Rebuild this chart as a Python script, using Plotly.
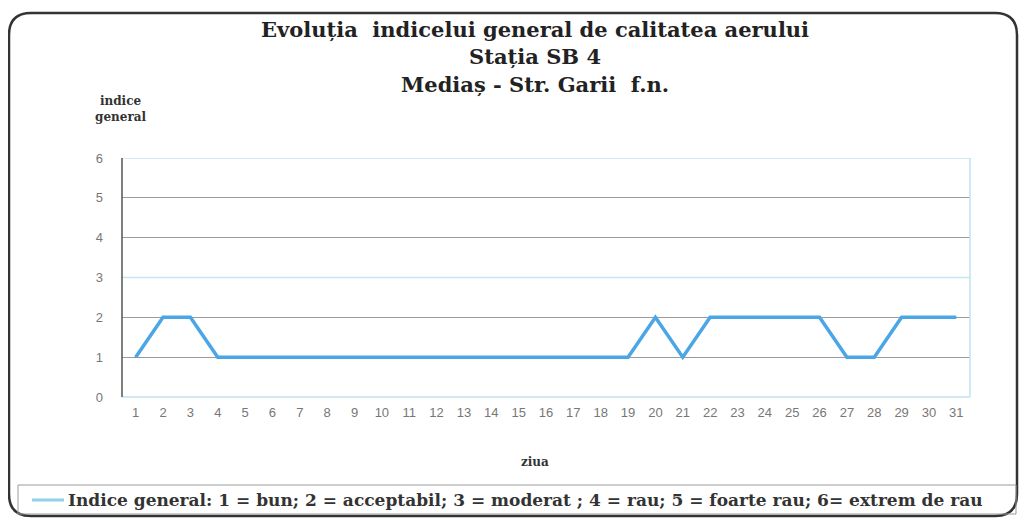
import plotly.graph_objects as go

days = [str(d) for d in range(1, 32)]
indice = [1, 2, 2, 1, 1, 1, 1, 1, 1, 1, 1, 1, 1, 1, 1, 1, 1, 1, 1,
          2, 1, 2, 2, 2, 2, 2, 1, 1, 2, 2, 2]
y_ticks = [0, 1, 2, 3, 4, 5, 6]
light_grid = [3, 6]   # gridlines drawn light blue in the original

title_lines = ["Evoluția  indicelui general de calitatea aerului",
               "Stația SB 4", "Mediaș - Str. Garii  f.n."]
legend_name = "Indice general: 1 = bun; 2 = acceptabil; 3 = moderat ; 4 = rau; 5 = foarte rau; 6= extrem de rau"

# page pixel geometry (page body has an 8px margin)
OFF = 8
PAGE_W, PAGE_H = 1027, 526
W, H = PAGE_W - 2 * OFF, PAGE_H - 2 * OFF
L, R, T, B = 122, 970, 158, 397   # plot area in page pixels

def px(x):
    return (x - L) / (R - L)

def py(y):
    return (B - y) / (B - T)

SERIF = "DejaVu Serif"
LINE_COLOR = "#4aa6e6"

fig = go.Figure()
fig.add_trace(go.Scatter(x=days, y=indice, mode="lines", name=legend_name,
                         showlegend=False,
                         line=dict(color=LINE_COLOR, width=3.5)))

# rounded outer frame
x0, x1, y0, y1, r = 9, 1017, 13, 516, 22
path = (f"M {px(x0+r)},{py(y0)} L {px(x1-r)},{py(y0)} "
        f"Q {px(x1)},{py(y0)} {px(x1)},{py(y0+r)} L {px(x1)},{py(y1-r)} "
        f"Q {px(x1)},{py(y1)} {px(x1-r)},{py(y1)} L {px(x0+r)},{py(y1)} "
        f"Q {px(x0)},{py(y1)} {px(x0)},{py(y1-r)} L {px(x0)},{py(y0+r)} "
        f"Q {px(x0)},{py(y0)} {px(x0+r)},{py(y0)} Z")
shapes = [
    dict(type="path", path=path, xref="paper", yref="paper",
         line=dict(color="#333333", width=2.5), layer="below"),
]
for g in light_grid:
    shapes.append(dict(type="line", xref="paper", yref="y", x0=0, x1=1, y0=g, y1=g,
                       line=dict(color="#c4e6f0", width=1.5), layer="above"))
shapes += [
    dict(type="line", xref="paper", yref="paper", x0=1, x1=1, y0=0, y1=1,
         line=dict(color="#bfe3ee", width=1.5)),
    dict(type="line", xref="paper", yref="paper", x0=0, x1=1, y0=0, y1=0,
         line=dict(color="#bfe3ee", width=1.5)),
    dict(type="line", xref="paper", yref="paper", x0=0, x1=0, y0=0, y1=1,
         line=dict(color="#555555", width=1.5)),
    # legend box
    dict(type="rect", xref="paper", yref="paper", x0=px(18), x1=px(1016),
         y0=py(485), y1=py(514), line=dict(color="#9a9a9a", width=1)),
    # legend sample line
    dict(type="line", xref="paper", yref="paper", x0=px(32), x1=px(64),
         y0=py(500), y1=py(500), line=dict(color="#8fd0ea", width=3)),
]

annotations = [
    dict(text="<b>" + "<br>".join(title_lines) + "</b>", x=px(535), y=py(57),
         xref="paper", yref="paper", showarrow=False,
         font=dict(family=SERIF, size=21, color="#222222"),
         xanchor="center", yanchor="middle"),
    dict(text="<b>indice<br>general</b>", x=px(120), y=py(109),
         xref="paper", yref="paper", showarrow=False,
         font=dict(family=SERIF, size=12, color="#333333"),
         xanchor="center", yanchor="middle"),
    dict(text="<b>ziua</b>", x=px(535), y=py(462), xref="paper", yref="paper",
         showarrow=False, font=dict(family=SERIF, size=12, color="#333333"),
         xanchor="center", yanchor="middle"),
    dict(text="<b>" + legend_name + "</b>", x=px(66), y=py(500), xref="paper",
         yref="paper", showarrow=False,
         font=dict(family=SERIF, size=17, color="#333333"),
         xanchor="left", yanchor="middle"),
]

fig.update_layout(
    width=W, height=H,
    margin=dict(l=L - OFF, r=(PAGE_W - OFF) - R, t=T - OFF, b=(PAGE_H - OFF) - B),
    paper_bgcolor="white", plot_bgcolor="white",
    shapes=shapes, annotations=annotations,
    showlegend=False,
    xaxis=dict(type="category", range=[-0.5, len(days) - 0.5], showgrid=False,
               zeroline=False, showline=False, ticks="", ticklabelstandoff=6,
               tickfont=dict(family="Liberation Sans", size=13, color="#777777")),
    yaxis=dict(range=[0, 6], tickvals=y_ticks, showgrid=True, gridcolor="#9a9a9a",
               gridwidth=1, zeroline=False, showline=False, ticks="",
               ticklabelstandoff=18,
               tickfont=dict(family="Liberation Sans", size=13, color="#777777")),
)

fig.write_html("out.html")
